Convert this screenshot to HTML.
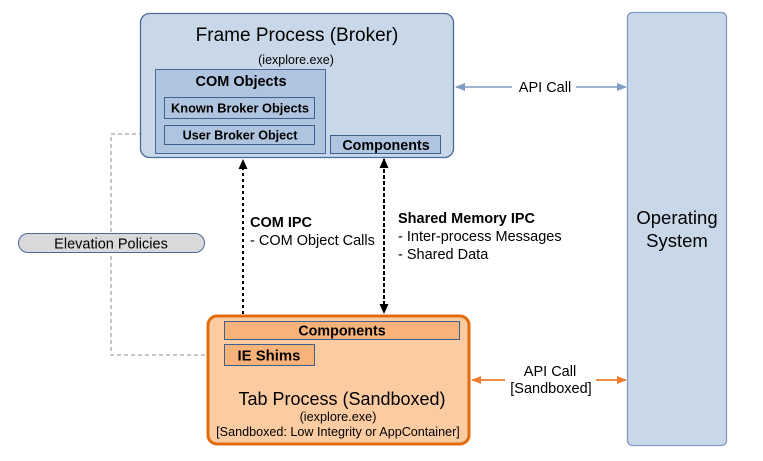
<!DOCTYPE html>
<html><head><meta charset="utf-8"><style>
html,body{margin:0;padding:0;background:#fff;}
svg{display:block;font-family:"Liberation Sans",Arial,sans-serif;}
</style></head><body>
<svg width="763" height="461" viewBox="0 0 763 461" xmlns="http://www.w3.org/2000/svg">
<defs>
<marker id="ab" markerWidth="10" markerHeight="8" refX="9" refY="4" orient="auto" markerUnits="userSpaceOnUse"><path d="M0,0 L10,4 L0,8 z" fill="#7f9cc4"/></marker>
<marker id="ao" markerWidth="10" markerHeight="8" refX="9" refY="4" orient="auto" markerUnits="userSpaceOnUse"><path d="M0,0 L10,4 L0,8 z" fill="#ed7d31"/></marker>
<marker id="ak" markerWidth="10" markerHeight="9" refX="9" refY="4.5" orient="auto" markerUnits="userSpaceOnUse"><path d="M0,0 L10,4.5 L0,9 z" fill="#000"/></marker>
</defs>
<path d="M164,134 H111 V355 H224" fill="none" stroke="#a6a6a6" stroke-width="1.3" stroke-dasharray="4,3"/>
<rect x="140.5" y="13.5" width="313" height="144" rx="9" fill="#c9d8e9" stroke="#4a6a9a" stroke-width="1.3"/>
<text x="297" y="41" font-size="19" text-anchor="middle">Frame Process (Broker)</text>
<text x="296" y="64" font-size="12.5" text-anchor="middle">(iexplore.exe)</text>
<rect x="155.5" y="69.5" width="170" height="84" fill="#afc4de" stroke="#4a6a9a" stroke-width="1"/>
<text x="241" y="86" font-size="14.5" font-weight="bold" text-anchor="middle">COM Objects</text>
<rect x="164.5" y="97.5" width="150" height="21" fill="#afc4de" stroke="#3f5f8f" stroke-width="1"/>
<text x="240" y="112.5" font-size="12.8" font-weight="bold" text-anchor="middle">Known Broker Objects</text>
<rect x="164.5" y="125.5" width="150" height="19" fill="#afc4de" stroke="#3f5f8f" stroke-width="1"/>
<text x="240" y="139.5" font-size="12.6" font-weight="bold" text-anchor="middle">User Broker Object</text>
<rect x="330.5" y="135.5" width="110" height="18" fill="#afc4de" stroke="#3f5f8f" stroke-width="1"/>
<text x="386" y="150" font-size="14.3" font-weight="bold" text-anchor="middle">Components</text>
<rect x="627.5" y="12.5" width="99" height="433" rx="5" fill="#c9d8e9" stroke="#7f9cc4" stroke-width="1.3"/>
<text x="677" y="224" font-size="18.5" text-anchor="middle">Operating</text>
<text x="677" y="247" font-size="18.5" text-anchor="middle">System</text>
<rect x="18.5" y="233.5" width="186" height="19" rx="9.5" fill="#d9d9d9" stroke="#4a6a9a" stroke-width="1"/>
<text x="111" y="248.5" font-size="14.5" text-anchor="middle">Elevation Policies</text>
<line x1="243" y1="314" x2="243" y2="160" stroke="#000" stroke-width="2" stroke-dasharray="3,3" marker-end="url(#ak)"/>
<line x1="384" y1="170" x2="384" y2="313" stroke="#000" stroke-width="2" stroke-dasharray="3,3" marker-end="url(#ak)"/>
<line x1="384" y1="304" x2="384" y2="159" stroke="#000" stroke-width="2" stroke-dasharray="3,3" marker-end="url(#ak)"/>
<text x="250" y="227" font-size="14.5" font-weight="bold">COM IPC</text>
<text x="250" y="245" font-size="14.5">- COM Object Calls</text>
<text x="398" y="223" font-size="14.5" font-weight="bold">Shared Memory IPC</text>
<text x="398" y="241" font-size="14.5">- Inter-process Messages</text>
<text x="398" y="259" font-size="14.5">- Shared Data</text>
<line x1="512" y1="87" x2="456" y2="87" stroke="#7f9cc4" stroke-width="1.5" marker-end="url(#ab)"/>
<line x1="576" y1="87" x2="626" y2="87" stroke="#7f9cc4" stroke-width="1.5" marker-end="url(#ab)"/>
<text x="545" y="92" font-size="14.5" text-anchor="middle">API Call</text>
<line x1="505" y1="380" x2="472" y2="380" stroke="#ed7d31" stroke-width="1.8" marker-end="url(#ao)"/>
<line x1="596" y1="380" x2="626" y2="380" stroke="#ed7d31" stroke-width="1.8" marker-end="url(#ao)"/>
<text x="550" y="376" font-size="14.5" text-anchor="middle">API Call</text>
<text x="551" y="393" font-size="14.5" text-anchor="middle">[Sandboxed]</text>
<rect x="208" y="316" width="261" height="128" rx="9" fill="#fbcba2" stroke="#e36c0a" stroke-width="3"/>
<rect x="224.5" y="321.5" width="235" height="18" fill="#f8b27a" stroke="#3f5f8f" stroke-width="1"/>
<text x="342" y="335.5" font-size="14.3" font-weight="bold" text-anchor="middle">Components</text>
<rect x="224.5" y="344.5" width="90" height="21" fill="#f8b27a" stroke="#3f5f8f" stroke-width="1"/>
<text x="269" y="360.5" font-size="14.9" font-weight="bold" text-anchor="middle">IE Shims</text>
<text x="342" y="405" font-size="18" text-anchor="middle">Tab Process (Sandboxed)</text>
<text x="338" y="421" font-size="12.7" text-anchor="middle">(iexplore.exe)</text>
<text x="338" y="436" font-size="12.6" text-anchor="middle">[Sandboxed: Low Integrity or AppContainer]</text>
</svg>
</body></html>
